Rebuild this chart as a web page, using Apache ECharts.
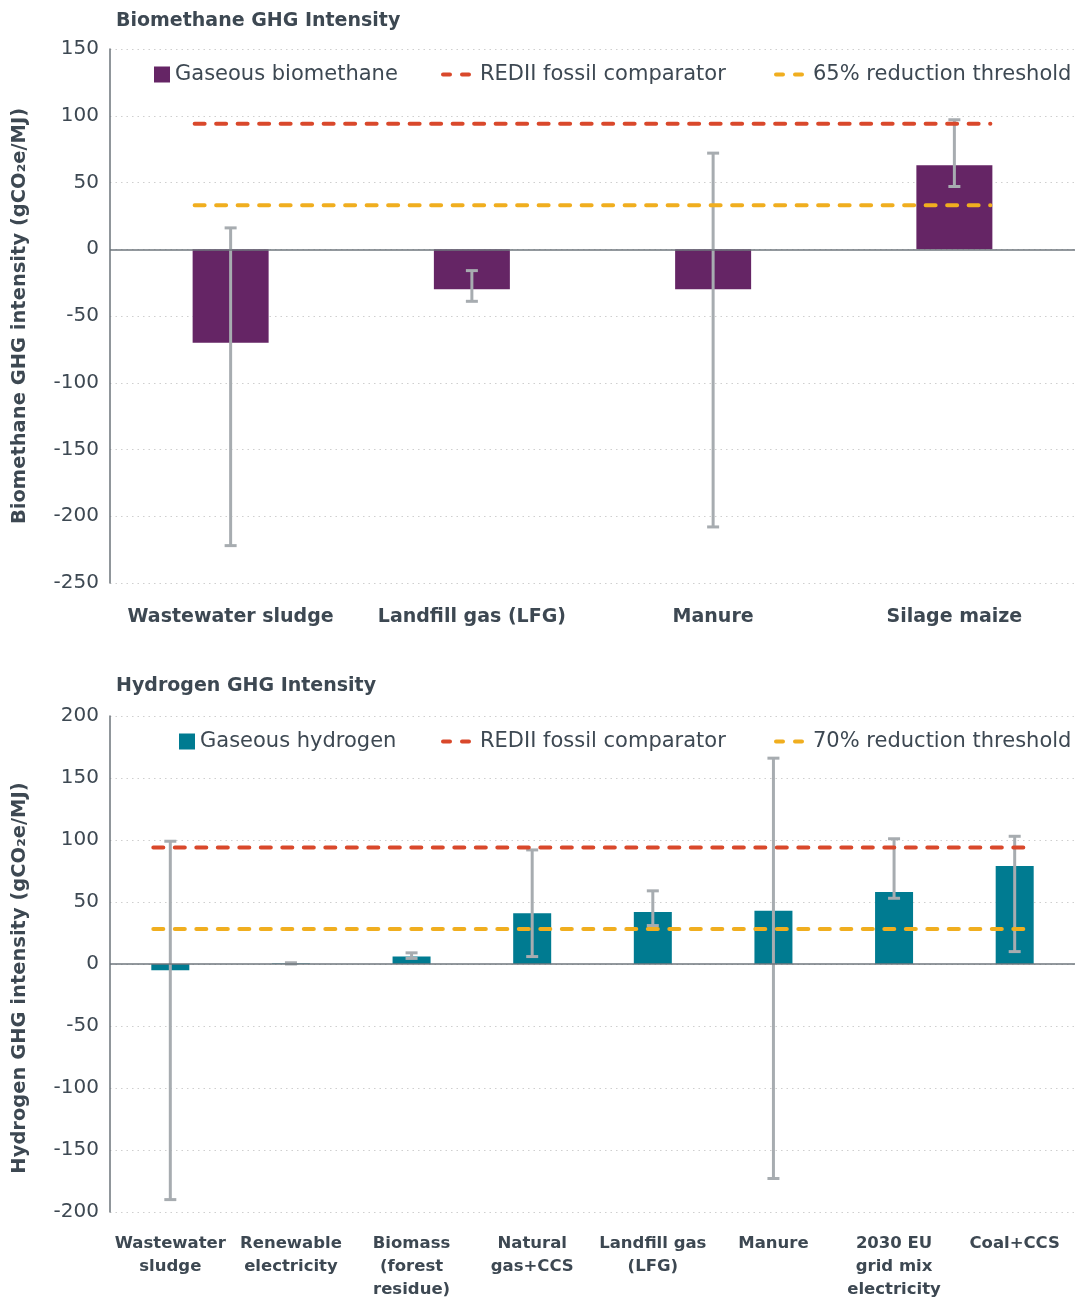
<!DOCTYPE html>
<html><head><meta charset="utf-8">
<script src="https://cdn.jsdelivr.net/npm/echarts@6/dist/echarts.min.js"></script>
<style>html,body{margin:0;padding:0;background:#fff}#c{width:1078px;height:1301px}</style>
</head><body><div id="c"></div>
<script>
// ---- Data: Biomethane ----
const bioCategories = ['Wastewater sludge', 'Landfill gas (LFG)', 'Manure', 'Silage maize'];
const bioValues = [-70, -30, -30, 63];
const bioErrLow = [-222, -39, -208, 47];
const bioErrHigh = [16, -16, 72, 97];
const bioFossil = 94;
const bioThreshold = 33;
const bioYMin = -250, bioYMax = 150, bioYStep = 50;

// ---- Data: Hydrogen ----
const h2Categories = ['Wastewater\nsludge', 'Renewable\nelectricity', 'Biomass\n(forest\nresidue)', 'Natural\ngas+CCS',
  'Landfill gas\n(LFG)', 'Manure', '2030 EU\ngrid mix\nelectricity', 'Coal+CCS'];
const h2Values = [-5, 0.5, 6, 41, 42, 43, 58, 79];
const h2ErrLow = [-190, 0, 4.5, 6, 31, -173, 53, 10];
const h2ErrHigh = [99, 1, 9, 92, 59, 166, 101, 103];
const h2Fossil = 94;
const h2Threshold = 28.2;
const h2YMin = -200, h2YMax = 200, h2YStep = 50;

const FONT = 'DejaVu Sans';
const TXT = '#3d4852';
const PURPLE = '#652565';
const TEAL = '#007b91';
const RED = '#d9482b';
const ORANGE = '#f0ae1f';
const ERR = '#a7acb0';
const DASH_ICON = 'path://M2,0h7a2,2 0 0 1 0,4h-7a2,2 0 0 1 0,-4zM21,0h7a2,2 0 0 1 0,4h-7a2,2 0 0 1 0,-4z';

function errRender(params, api) {
  const x = api.value(0);
  const lo = api.coord([x, api.value(1)]);
  const hi = api.coord([x, api.value(2)]);
  const cap = 6;
  const st = { stroke: ERR, lineWidth: 3 };
  return { type: 'group', children: [
    { type: 'line', shape: { x1: lo[0], y1: lo[1], x2: hi[0], y2: hi[1] }, style: st },
    { type: 'line', shape: { x1: lo[0] - cap, y1: lo[1], x2: lo[0] + cap, y2: lo[1] }, style: st },
    { type: 'line', shape: { x1: hi[0] - cap, y1: hi[1], x2: hi[0] + cap, y2: hi[1] }, style: st }
  ]};
}
function refRender(n, barW, color) {
  return function (params, api) {
    const v = api.value(1);
    const a = api.coord([0, v]);
    const b = api.coord([n - 1, v]);
    return { type: 'line', shape: { x1: a[0] - barW / 2 + 2, y1: a[1], x2: b[0] + barW / 2 - 2, y2: b[1] },
      style: { stroke: color, lineWidth: 4, lineDash: [10, 11.5], lineCap: 'round' } };
  };
}

function lg(name, left, top, icon, w, h, pad) {
  return { data: [{ name: name, icon: icon }], left: left, top: top, itemWidth: w, itemHeight: h,
    itemGap: 0, selectedMode: false, padding: 0,
    textStyle: { fontFamily: FONT, fontSize: 21, color: TXT, padding: [0, 0, 0, pad] } };
}

function yAxis(idx, min, max, step, name, namePad) {
  return {
    type: 'value', gridIndex: idx, min: min, max: max, interval: step,
    name: name, nameLocation: 'middle', nameGap: 80,
    nameTextStyle: { fontFamily: FONT, fontSize: 19.5, fontWeight: 'bold', color: TXT, padding: namePad },
    axisLine: { show: true, onZero: false, lineStyle: { color: '#6b737a', width: 1.5 } },
    axisTick: { show: false },
    axisLabel: { fontFamily: FONT, fontSize: 20, color: TXT, margin: 11 },
    splitLine: { show: true, lineStyle: { color: '#cfcfcf', width: 1.2, type: [1.5, 4] } }
  };
}
function xAxis(idx, cats, fs, margin, lh) {
  return {
    type: 'category', gridIndex: idx, data: cats,
    axisLine: { show: false, onZero: false }, axisTick: { show: false },
    axisLabel: { fontFamily: FONT, fontSize: fs, fontWeight: 'bold', color: TXT, margin: margin, lineHeight: lh, interval: 0 },
    splitLine: { show: false }
  };
}
const zeroLine = { silent: true, symbol: 'none', label: { show: false },
  lineStyle: { color: '#6e767d', width: 1.5, type: 'solid' }, data: [{ yAxis: 0 }], animation: false };

const BIO_BW = 76, H2_BW = 38;

const option = {
  animation: false,
  backgroundColor: '#fff',
  title: [
    { text: 'Biomethane GHG Intensity', left: 116, top: 12, padding: 0, textStyle: { fontFamily: FONT, fontSize: 19, fontWeight: 'bold', color: TXT } },
    { text: 'Hydrogen GHG Intensity', left: 116, top: 677, padding: 0, textStyle: { fontFamily: FONT, fontSize: 19, fontWeight: 'bold', color: TXT } }
  ],
  legend: [
    lg('Gaseous biomethane', 154, 64, 'rect', 16, 16, 0),
    lg('REDII fossil comparator', 441, 64, DASH_ICON, 30, 4, 4),
    lg('65% reduction threshold', 774, 64, DASH_ICON, 30, 4, 4),
    lg('Gaseous hydrogen', 179, 731, 'rect', 16, 16, 0),
    lg('REDII fossil comparator ', 441, 731, DASH_ICON, 30, 4, 4),
    lg('70% reduction threshold', 774, 731, DASH_ICON, 30, 4, 4)
  ],
  grid: [
    { left: 110, right: 3, top: 49, height: 534 },
    { left: 110, right: 3, top: 716, height: 501 }
  ],
  xAxis: [xAxis(0, bioCategories, 19, 22, 24), xAxis(1, h2Categories, 16.5, 20, 23)],
  yAxis: [
    yAxis(0, bioYMin, bioYMax, bioYStep, 'Biomethane GHG intensity (gCO₂e/MJ)', 0),
    yAxis(1, h2YMin, h2YMax, h2YStep, 'Hydrogen GHG intensity (gCO₂e/MJ)', [0, 28, 0, 0])
  ],
  series: [
    { name: 'Gaseous biomethane', type: 'bar', xAxisIndex: 0, yAxisIndex: 0, data: bioValues,
      barWidth: BIO_BW, itemStyle: { color: PURPLE }, markLine: zeroLine, z: 2 },
    { type: 'custom', xAxisIndex: 0, yAxisIndex: 0, renderItem: errRender, z: 3,
      data: bioValues.map((v, i) => [i, bioErrLow[i], bioErrHigh[i]]), encode: { x: 0, y: [1, 2] } },
    { name: 'REDII fossil comparator', type: 'custom', xAxisIndex: 0, yAxisIndex: 0, z: 4,
      renderItem: refRender(bioCategories.length, BIO_BW, RED), itemStyle: { color: RED },
      data: [[0, bioFossil]], encode: { x: 0, y: 1 } },
    { name: '65% reduction threshold', type: 'custom', xAxisIndex: 0, yAxisIndex: 0, z: 4,
      renderItem: refRender(bioCategories.length, BIO_BW, ORANGE), itemStyle: { color: ORANGE },
      data: [[0, bioThreshold]], encode: { x: 0, y: 1 } },

    { name: 'Gaseous hydrogen', type: 'bar', xAxisIndex: 1, yAxisIndex: 1, data: h2Values,
      barWidth: H2_BW, itemStyle: { color: TEAL }, markLine: zeroLine, z: 2 },
    { type: 'custom', xAxisIndex: 1, yAxisIndex: 1, renderItem: errRender, z: 3,
      data: h2Values.map((v, i) => [i, h2ErrLow[i], h2ErrHigh[i]]), encode: { x: 0, y: [1, 2] } },
    { name: 'REDII fossil comparator ', type: 'custom', xAxisIndex: 1, yAxisIndex: 1, z: 4,
      renderItem: refRender(h2Categories.length, H2_BW, RED), itemStyle: { color: RED },
      data: [[0, h2Fossil]], encode: { x: 0, y: 1 } },
    { name: '70% reduction threshold', type: 'custom', xAxisIndex: 1, yAxisIndex: 1, z: 4,
      renderItem: refRender(h2Categories.length, H2_BW, ORANGE), itemStyle: { color: ORANGE },
      data: [[0, h2Threshold]], encode: { x: 0, y: 1 } }
  ]
};
const chart = echarts.init(document.getElementById('c'));
chart.setOption(option);
</script>
</body></html>
